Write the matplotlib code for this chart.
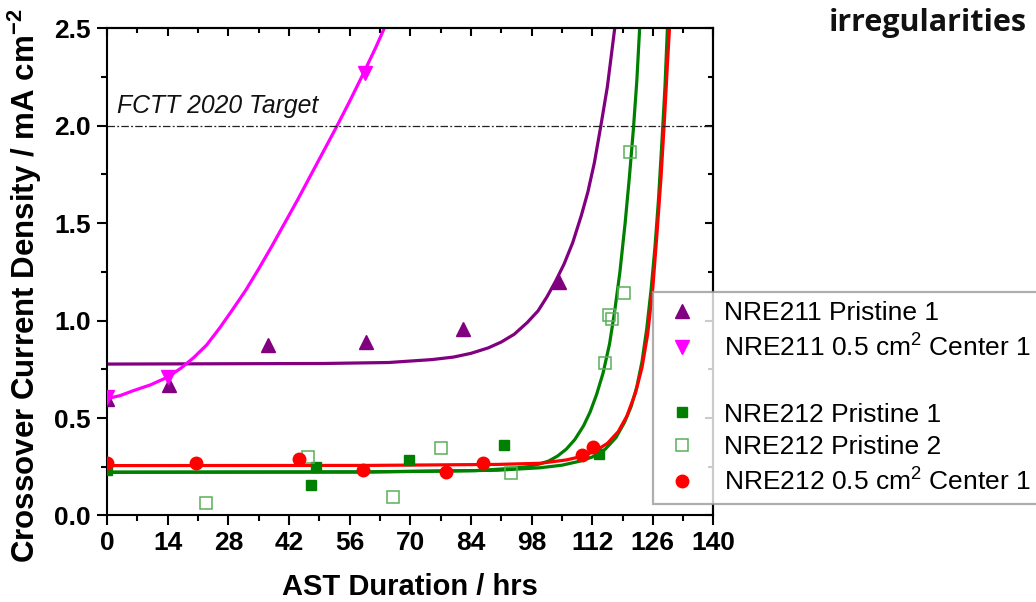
import matplotlib
matplotlib.use("Agg")
import matplotlib.pyplot as plt
from matplotlib.lines import Line2D
from matplotlib.ticker import MultipleLocator

plt.rcParams['font.family'] = ['Liberation Sans', 'DejaVu Sans']
plt.rcParams['mathtext.fontset'] = 'custom'
plt.rcParams['mathtext.rm'] = 'Liberation Sans'
plt.rcParams['mathtext.bf'] = 'Liberation Sans:bold'
plt.rcParams['mathtext.default'] = 'regular'

# measured points
nre211_p1_x = [0, 14.3, 37.1, 59.7, 82.1, 104.3]
nre211_p1_y = [0.60, 0.67, 0.875, 0.89, 0.957, 1.20]

nre211_c1_x = [0, 14.0, 59.6]
nre211_c1_y = [0.61, 0.71, 2.27]

nre212_p1_x = [0, 47.2, 48.2, 69.8, 91.7, 113.5]
nre212_p1_y = [0.235, 0.155, 0.247, 0.283, 0.36, 0.315]

nre212_p2_x = [22.8, 46.4, 66.1, 77.1, 93.3, 115.0, 115.9, 116.6, 119.4, 120.8]
nre212_p2_y = [0.063, 0.302, 0.096, 0.345, 0.217, 0.78, 1.03, 1.01, 1.143, 1.866]

nre212_c1_x = [0, 20.5, 44.3, 59.2, 78.2, 86.7, 109.6, 112.1]
nre212_c1_y = [0.268, 0.268, 0.288, 0.233, 0.222, 0.268, 0.31, 0.35]

# fitted curves
fit_211_p1_x = [0, 50, 65, 75, 80, 84, 88, 91, 94, 97, 99.5, 101.5, 103.5, 105.5, 107.5,
                109.5, 111, 112.5, 114, 115.5, 117.2]
fit_211_p1_y = [0.777, 0.78, 0.785, 0.80, 0.813, 0.832, 0.86, 0.89, 0.93, 0.99, 1.05, 1.12,
                1.20, 1.29, 1.40, 1.54, 1.66, 1.81, 2.0, 2.2, 2.5]

fit_211_c1_x = [0, 3, 6, 10, 14, 17, 20, 23, 26, 29, 32, 35, 38, 41, 44, 47, 50, 53, 56,
                59, 62, 64]
fit_211_c1_y = [0.60, 0.615, 0.64, 0.67, 0.71, 0.755, 0.81, 0.875, 0.962, 1.057, 1.155,
                1.265, 1.38, 1.50, 1.62, 1.745, 1.87, 1.995, 2.125, 2.26, 2.40, 2.50]

fit_212_a_x = [0, 60, 85, 92, 97, 100, 102, 104, 106, 108, 110, 111.5, 113, 114.5, 116,
               117.2, 118.4, 119.6, 120.6, 121.5, 122.3, 123]
fit_212_a_y = [0.222, 0.223, 0.23, 0.24, 0.25, 0.265, 0.28, 0.305, 0.34, 0.39, 0.46, 0.53,
               0.62, 0.73, 0.88, 1.05, 1.25, 1.50, 1.74, 1.98, 2.23, 2.52]

fit_212_b_x = [0, 60, 90, 100, 105, 109, 112, 115, 117.5, 119.5, 121, 122.3, 123.5, 124.6,
               125.6, 126.5, 127.3, 128.1, 128.8, 129.4]
fit_212_b_y = [0.222, 0.224, 0.232, 0.245, 0.258, 0.278, 0.30, 0.34, 0.40, 0.48, 0.56, 0.66,
               0.79, 0.96, 1.16, 1.38, 1.62, 1.92, 2.2, 2.52]

fit_212_c1_x = [0, 60, 90, 100, 106, 110, 113, 115.5, 118, 120, 122, 123.5, 124.8, 126,
                127, 127.9, 128.7, 129.4, 130]
fit_212_c1_y = [0.256, 0.257, 0.262, 0.268, 0.285, 0.305, 0.335, 0.37, 0.43, 0.51, 0.63,
                0.76, 0.93, 1.17, 1.46, 1.74, 2.04, 2.33, 2.56]

target_x = [0, 140]
target_y = [2.0, 2.0]

xticks = list(range(0, 141, 14))
yticks = [0.0, 0.5, 1.0, 1.5, 2.0, 2.5]

purple = '#800080'
magenta = '#ff00ff'
green = '#008000'
red = '#ff0000'

fig = plt.figure(figsize=(10.36, 6.02), dpi=100)
ax = fig.add_axes([0.1033, 0.1437, 0.5854, 0.8093])

lw = 2.3
ax.plot(fit_211_p1_x, fit_211_p1_y, color=purple, lw=lw)
ax.plot(fit_211_c1_x, fit_211_c1_y, color=magenta, lw=lw)
ax.plot(fit_212_a_x, fit_212_a_y, color=green, lw=lw)
ax.plot(fit_212_b_x, fit_212_b_y, color=green, lw=lw)
ax.plot(fit_212_c1_x, fit_212_c1_y, color=red, lw=lw)
ax.plot(target_x, target_y, color='#222222', lw=0.9, dashes=(6, 1.8, 1.5, 1.8))

ax.plot(nre211_p1_x, nre211_p1_y, '^', color=purple, ms=10.5, ls='none', zorder=4)
ax.plot(nre211_c1_x, nre211_c1_y, 'v', color=magenta, ms=10.5, ls='none', zorder=4)
ax.plot(nre212_p1_x, nre212_p1_y, 's', color=green, ms=7.5, ls='none', zorder=4)
ax.plot(nre212_p2_x, nre212_p2_y, 's', mfc='none', mec='#5aae5a', mew=1.1, ms=8,
        ls='none', zorder=4)
ax.plot(nre212_c1_x, nre212_c1_y, 'o', color=red, ms=9, ls='none', zorder=4)

ax.text(2.2, 2.065, 'FCTT 2020 Target', fontsize=17.8, style='italic', color='#111111')

ax.set_xlim(0, 140)
ax.set_ylim(0, 2.5)
ax.set_xticks(xticks)
ax.set_yticks(yticks)
ax.set_yticklabels(['%.1f' % v for v in yticks])
ax.xaxis.set_minor_locator(MultipleLocator(7))
ax.yaxis.set_minor_locator(MultipleLocator(0.25))
ax.tick_params(which='major', direction='out', length=7.5, width=1.5, labelsize=19, pad=4)
ax.tick_params(which='minor', direction='out', length=4.5, width=1.5)
for lab in ax.get_xticklabels() + ax.get_yticklabels():
    lab.set_fontweight('bold')
for sp in ax.spines.values():
    sp.set_linewidth(1.5)

secx = ax.secondary_xaxis('top')
secx.set_xticks(xticks)
secx.xaxis.set_minor_locator(MultipleLocator(7))
secx.tick_params(which='major', direction='in', length=6, width=1.5, labeltop=False)
secx.tick_params(which='minor', direction='in', length=3.5, width=1.5)
secx.spines['top'].set_linewidth(1.5)

secy = ax.secondary_yaxis('right')
secy.set_yticks(yticks)
secy.yaxis.set_minor_locator(MultipleLocator(0.25))
secy.tick_params(which='major', direction='in', length=6, width=1.5, labelright=False)
secy.tick_params(which='minor', direction='in', length=3.5, width=1.5)
secy.spines['right'].set_linewidth(1.5)

fig.text(410 / 1036, 1 - 595 / 602, 'AST Duration / hrs', fontsize=21, fontweight='bold',
         ha='center', va='baseline')
fig.text(25 / 1036, 1 - 286 / 602, r'Crossover Current Density / mA cm$^{\mathbf{-2}}$',
         fontsize=22.5, fontweight='bold', rotation=90, ha='center', va='center')

fig.text(1027 / 1036, 1 - 31 / 602, 'irregularities', fontsize=22, fontweight='bold',
         family=['Open Sans', 'DejaVu Sans'], ha='right', va='baseline', color='#111111')

handles = [
    Line2D([], [], marker='^', color=purple, ls='none', ms=10.5),
    Line2D([], [], marker='v', color=magenta, ls='none', ms=10.5),
    Line2D([], [], marker='none', ls='none'),
    Line2D([], [], marker='s', color=green, ls='none', ms=7.5),
    Line2D([], [], marker='s', mfc='none', mec='#5aae5a', mew=1.1, ls='none', ms=8),
    Line2D([], [], marker='o', color=red, ls='none', ms=9),
]
labels = ['NRE211 Pristine 1', 'NRE211 0.5 cm$^2$ Center 1', ' ',
          'NRE212 Pristine 1', 'NRE212 Pristine 2', 'NRE212 0.5 cm$^2$ Center 1']
leg = fig.legend(handles, labels, loc='upper left', bbox_to_anchor=(653 / 1036, 1 - 292 / 602),
                 fontsize=19, frameon=True, fancybox=False, edgecolor='#9a9a9a',
                 borderpad=0.35, handlelength=1.5, handletextpad=0.85, labelspacing=0.33,
                 borderaxespad=0)
leg.get_frame().set_linewidth(1.6)

fig.savefig('out.png', dpi=100)
